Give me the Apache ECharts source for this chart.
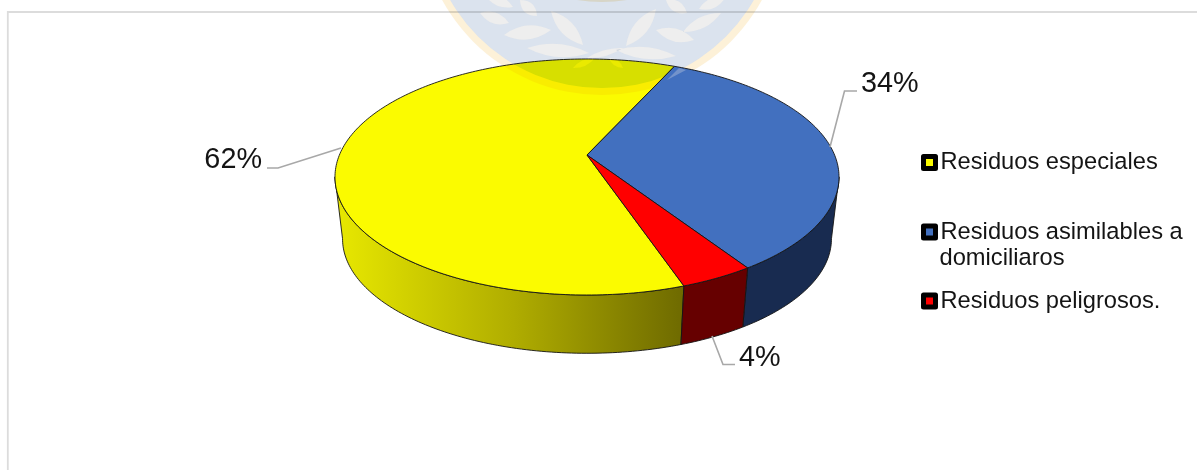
<!DOCTYPE html>
<html>
<head>
<meta charset="utf-8">
<style>html,body{margin:0;padding:0;background:#fff}#c{width:1197px;height:470px}</style>
<script src="https://cdn.jsdelivr.net/npm/echarts@6/dist/echarts.min.js"></script>
</head>
<body>
<div id="c"></div>
<script>
// Waste composition, in percent
const categories = ['Residuos especiales', 'Residuos asimilables a domiciliaros', 'Residuos peligrosos.'];
const legendFirstLines = ['Residuos especiales', 'Residuos asimilables a', 'Residuos peligrosos.'];
const sliceValues = [62, 34, 4];
const firstSliceAngle = 161.2;

const topColors = ['#fbfb00', '#4270bf', '#ff0000'];
const sideColors = [
  {type: 'linear', x: 342, y: 0, x2: 684, y2: 0, global: true,
   colorStops: [{offset: 0, color: '#e6e600'}, {offset: 0.5, color: '#b0ad00'}, {offset: 1, color: '#6e6a00'}]},
  '#182b50',
  '#660000'
];

// Perspective model of the disc: the back of the circle is foreshortened
const disc = {x: 587, y: 155, rx: 247.6, ry: 113.9, k: 0.1864, lowY: 217.5, lowScale: 0.97};

function project(alpha, low) {
  const t = (90 - alpha) * Math.PI / 180;
  const f = 1 / (1 + disc.k * Math.sin(t));
  const q = low ? disc.lowScale : 1;
  return [disc.x + q * disc.rx * Math.cos(t) * f,
          (low ? disc.lowY : disc.y) - q * disc.ry * Math.sin(t) * f];
}
function arc(a0, a1, low) {
  const n = Math.max(1, Math.ceil(Math.abs(a1 - a0)));
  const pts = [];
  for (let i = 0; i <= n; i++) pts.push(project(a0 + (a1 - a0) * i / n, low));
  return pts;
}
function sliceAngles(idx) {
  let a = firstSliceAngle;
  for (let i = 0; i < idx; i++) a += sliceValues[i] * 3.6;
  return [a, a + sliceValues[idx] * 3.6];
}

// Leader lines and label anchors, one per slice
const leaders = [
  {line: [[267, 168], [278, 168], [341, 148]], at: [262, 160.5], align: 'right'},
  {line: [[830, 147], [844.5, 91], [857, 91]], at: [861, 84], align: 'left'},
  {line: [[712, 336], [723, 364.5], [735, 364.5]], at: [739, 358.5], align: 'left'}
];
const edge = {stroke: '#141414', lineWidth: 0.9, lineJoin: 'round'};

function renderSlice(params) {
  const i = params.seriesIndex;
  let [a0, a1] = sliceAngles(i);
  if (a0 > 360) { a0 -= 360; a1 -= 360; }
  const front0 = Math.max(a0, 100.7), front1 = Math.min(a1, 259.3);
  const children = [];
  if (front1 > front0) {
    children.push({
      type: 'polygon',
      shape: {points: arc(front0, front1, false).concat(arc(front1, front0, true))},
      style: Object.assign({fill: sideColors[i]}, edge)
    });
  }
  children.push({
    type: 'polygon',
    shape: {points: [[disc.x, disc.y]].concat(arc(a0, a1, false))},
    style: Object.assign({fill: topColors[i]}, edge)
  });
  const l = leaders[i];
  children.push({
    type: 'polyline',
    shape: {points: l.line},
    style: {fill: 'none', stroke: '#a8a8a8', lineWidth: 1.6}
  });
  children.push({
    type: 'text',
    style: {text: sliceValues[i] + '%', x: l.at[0], y: l.at[1], textAlign: l.align, textVerticalAlign: 'middle',
            font: '28.8px "Liberation Sans", Arial, sans-serif', fill: '#141414'}
  });
  return {type: 'group', children};
}

// Institutional seal printed behind the page, multiplied over whatever it crosses
const leaves = [
  [[504, 35], [551, 30], 7], [[480, 13], [509, 23], 5.5], [[520, 0], [537, 16], 5.5],
  [[551, 11], [583, 45], 7], [[527, 48], [589, 53], 6.5], [[656, 9], [626, 46], 7],
  [[656, 30], [694, 40], 6.5], [[683, 32], [721, 13], 5.5], [[616, 50], [676, 56], 6],
  [[666, 0], [687, 13], 5.5], [[699, 9], [725, -2], 5], [[485, -5], [513, 7], 5],
  [[573, 68], [595, 58], 3], [[623, 68], [609, 58], 3], [[587, 58], [623, 48], 3]
];
function leafPath([a, b, w]) {
  const mx = (a[0] + b[0]) / 2, my = (a[1] + b[1]) / 2;
  const dx = b[0] - a[0], dy = b[1] - a[1], len = Math.hypot(dx, dy);
  const nx = -dy / len * w * 2, ny = dx / len * w * 2;
  return `M${a[0]} ${a[1]}Q${mx + nx} ${my + ny} ${b[0]} ${b[1]}Q${mx - nx} ${my - ny} ${a[0]} ${a[1]}Z`;
}
const seal = {x: 602, y: -87, r: 182, inner: 175, crest: -155, crestR: 157};
const circlePath = (cy, r, sweep) => `M${seal.x - r} ${cy}A${r} ${r} 0 1 ${sweep} ${seal.x + r} ${cy}A${r} ${r} 0 1 ${sweep} ${seal.x - r} ${cy}Z`;
const leafPaths = leaves.map(leafPath).join('');

function renderSeal() {
  const layer = (pathData, fill) => ({type: 'path', shape: {pathData}, style: {fill}});
  return {type: 'group', children: [
    layer(circlePath(seal.y, seal.r, 1) + circlePath(seal.y, seal.inner, 0), '#fdf1d8'),
    layer(circlePath(seal.y, seal.inner, 1) + leafPaths, '#dbe3ee'),
    layer(leafPaths, '#eeeeee'),
    layer(circlePath(seal.crest, seal.crestR, 1), '#fbf0d5')
  ]};
}

const chart = echarts.init(document.getElementById('c'), null, {renderer: 'canvas'});
const legendFont = {color: '#141414', fontSize: 23.7, fontFamily: '"Liberation Sans", Arial, sans-serif'};
const legendTops = [150.5, 220, 289];

const sliceSeries = categories.map((name, i) => ({
  type: 'custom',
  name: name,
  coordinateSystem: 'none',
  z: i === 0 ? 2 : 4,
  silent: true,
  itemStyle: {color: topColors[i]},
  renderItem: renderSlice,
  data: [sliceValues[i]]
}));
const sealSeries = {
  type: 'custom', name: 'sello', coordinateSystem: 'none', z: 3, silent: true,
  blendMode: 'multiply', renderItem: renderSeal, data: [0]
};

chart.setOption({
  animation: false,
  backgroundColor: '#ffffff',
  tooltip: {show: false},
  legend: categories.map((name, i) => ({
    data: [name],
    left: 921,
    top: legendTops[i],
    padding: 0,
    orient: 'vertical',
    selectedMode: false,
    icon: 'rect',
    itemWidth: 12,
    itemHeight: 12,
    itemStyle: {borderColor: '#000', borderWidth: 5, borderJoin: 'round'},
    textStyle: legendFont,
    formatter: () => legendFirstLines[i]
  })),
  graphic: {elements: [
    {type: 'polyline', z: 0, shape: {points: [[7.8, 470], [7.8, 12], [1197, 12]]},
     style: {fill: 'none', stroke: '#dcdcdc', lineWidth: 1.8}},
    {type: 'polygon', z: 5, shape: {points: [[679, 68], [667, 80], [686, 70]]},
     style: {fill: 'rgba(205,212,225,0.35)'}},
    {type: 'text', z: 6, style: {text: 'domiciliaros', x: 939.5, y: 258, textVerticalAlign: 'middle',
     font: '23.7px "Liberation Sans", Arial, sans-serif', fill: '#141414'}}
  ]},
  series: sliceSeries.concat([sealSeries])
});
</script>
</body>
</html>
